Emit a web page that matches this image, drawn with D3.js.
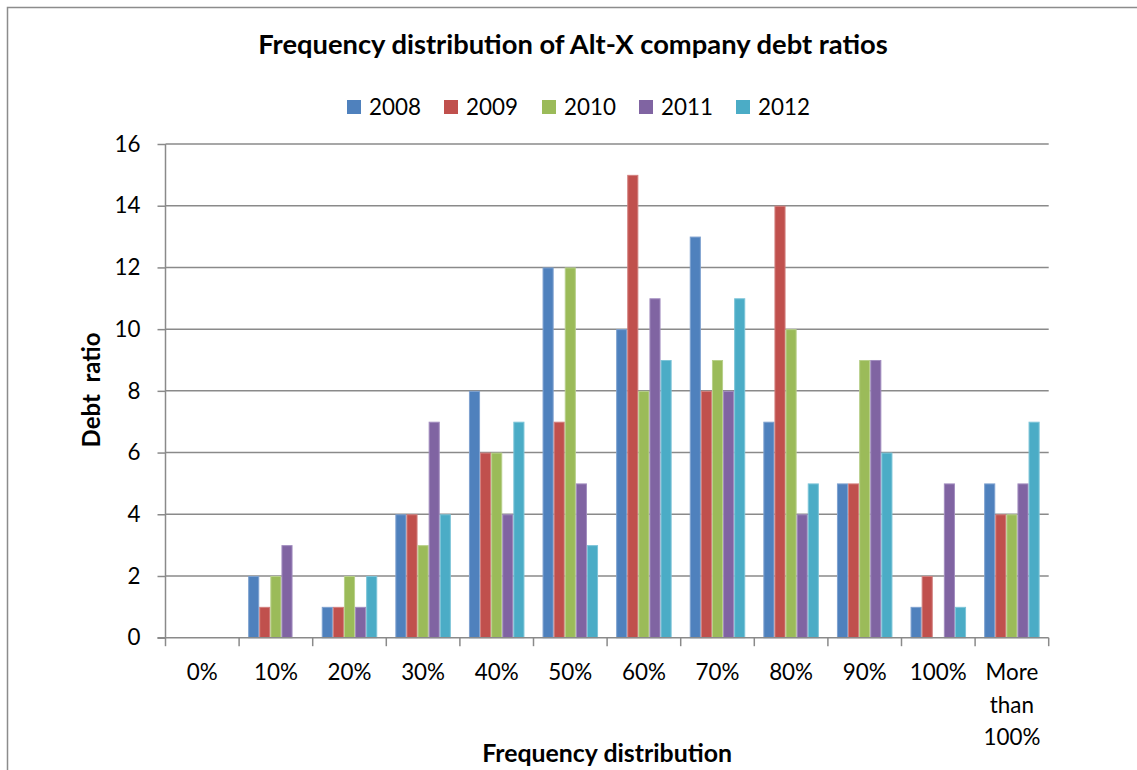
<!DOCTYPE html>
<html><head><meta charset="utf-8">
<script src="https://cdn.jsdelivr.net/npm/d3@7"></script>
<style>
html,body{margin:0;padding:0;background:#fff;}
svg{display:block;}
text{font-family:Lato,"Open Sans",sans-serif;fill:#000;}
</style></head>
<body>
<svg id="chart" width="1137" height="770"></svg>
<script>
const categories = ["0%","10%","20%","30%","40%","50%","60%","70%","80%","90%","100%","More than 100%"];
const seriesNames = ["2008","2009","2010","2011","2012"];
const v2008 = [0,2,1,4,8,12,10,13,7,5,1,5];
const v2009 = [0,1,1,4,6,7,15,8,14,5,2,4];
const v2010 = [0,2,2,3,6,12,8,9,10,9,0,4];
const v2011 = [0,3,1,7,4,5,11,8,4,9,5,5];
const v2012 = [0,0,2,4,7,3,9,11,5,6,1,7];
const yTicks = [0,2,4,6,8,10,12,14,16];
const colors = ["#4F81BD","#C0504D","#9BBB59","#8064A2","#4BACC6"];
const strokeColors = ["#7EA1CF","#D27F7D","#B8D08A","#A28DBF","#7CC4D8"];
const titleText = "Frequency distribution of Alt-X company debt ratios";
const yTitleText = "Debt  ratio";
const xTitleText = "Frequency distribution";

(function(){
const values = [v2008,v2009,v2010,v2011,v2012];
const svg = d3.select("#chart");

svg.append("rect").attr("x",7.5).attr("y",7.5).attr("width",1140).attr("height",800)
  .attr("fill","#fff").attr("stroke","#8c8c8c").attr("stroke-width",1.5);

const pL = 165.5, pR = 1048.7, pT = 144, pB = 637.7;
const x = d3.scaleBand().domain(categories).range([pL,pR]).padding(0);
const y = d3.scaleLinear().domain([0,16]).range([pB,pT]);
const bw = x.bandwidth();
const inner = d3.scaleBand().domain(seriesNames).range([bw*0.123, bw*0.877]).padding(0);

function fit(sel, target){
  const w = sel.node().getComputedTextLength();
  const fs = parseFloat(sel.attr("font-size"));
  sel.attr("font-size", fs*target/w);
}

svg.append("g").selectAll("line").data(yTicks.filter(d=>d>0)).join("line")
  .attr("x1",pL).attr("x2",pR).attr("y1",d=>y(d)).attr("y2",d=>y(d))
  .attr("stroke","#8a8a8a").attr("stroke-width",1.5);

const gBars = svg.append("g");
seriesNames.forEach((s,si)=>{
  gBars.append("g").selectAll("rect").data(values[si].map((v,i)=>({c:categories[i],v})).filter(d=>d.v>0)).join("rect")
    .attr("x",d=>x(d.c)+inner(s)+0.5)
    .attr("width",inner.bandwidth()-1)
    .attr("y",d=>y(d.v)+0.5)
    .attr("height",d=>y(0)-y(d.v)-0.5)
    .attr("fill",colors[si]).attr("stroke",strokeColors[si]).attr("stroke-width",1);
});

const yAxis = d3.axisLeft(y).tickValues(yTicks).tickSize(8).tickPadding(17).tickFormat(d3.format("d"));
const gy = svg.append("g").attr("transform",`translate(${pL},0)`).call(yAxis);
gy.select(".domain").attr("stroke","#8a8a8a").attr("stroke-width",1.5).attr("d",`M0,${pT}V${pB}`);
gy.selectAll(".tick line").attr("stroke","#8a8a8a").attr("stroke-width",1.5);
gy.selectAll(".tick text").attr("font-size",22.4).attr("font-family","Lato,sans-serif").attr("fill","#000");

const gx = svg.append("g").attr("transform",`translate(0,${pB})`);
gx.append("line").attr("x1",pL-8).attr("x2",pR).attr("y1",0).attr("y2",0).attr("stroke","#8a8a8a").attr("stroke-width",1.5);
const bounds = categories.map(c=>x(c)).concat([pR]);
gx.selectAll("line.t").data(bounds).join("line").attr("class","t")
  .attr("x1",d=>d).attr("x2",d=>d).attr("y1",0).attr("y2",8.5).attr("stroke","#8a8a8a").attr("stroke-width",1.5);
const labelLines = categories.map(c => c==="More than 100%" ? ["More","than","100%"] : [c]);
const gl = svg.append("g");
categories.forEach((c,i)=>{
  const t = gl.append("text").attr("text-anchor","middle").attr("font-size",22.4)
    .attr("x",x(c)+bw/2).attr("y",680);
  labelLines[i].forEach((ln,j)=>{
    t.append("tspan").attr("x",x(c)+bw/2).attr("y",680+j*32.5).text(ln);
  });
});

const title = svg.append("text").attr("x",573).attr("y",54).attr("text-anchor","middle")
  .attr("font-weight","bold").attr("font-size",24).text(titleText);
fit(title,630);

const legX = [347,444,542,639,736];
const gLeg = svg.append("g");
seriesNames.forEach((s,i)=>{
  gLeg.append("rect").attr("x",legX[i]).attr("y",100).attr("width",14).attr("height",14).attr("fill",colors[i]);
  gLeg.append("text").attr("x",legX[i]+22).attr("y",115).attr("font-size",22.4).text(s);
});

const yt = svg.append("text").attr("transform","translate(100,390) rotate(-90)")
  .attr("text-anchor","middle").attr("font-weight","bold").attr("font-size",20)
  .style("white-space","pre").text(yTitleText);
fit(yt,115);

const xt = svg.append("text").attr("x",(pL+pR)/2).attr("y",762).attr("text-anchor","middle")
  .attr("font-weight","bold").attr("font-size",20).text(xTitleText);
fit(xt,250);
})();
</script>
</body></html>
